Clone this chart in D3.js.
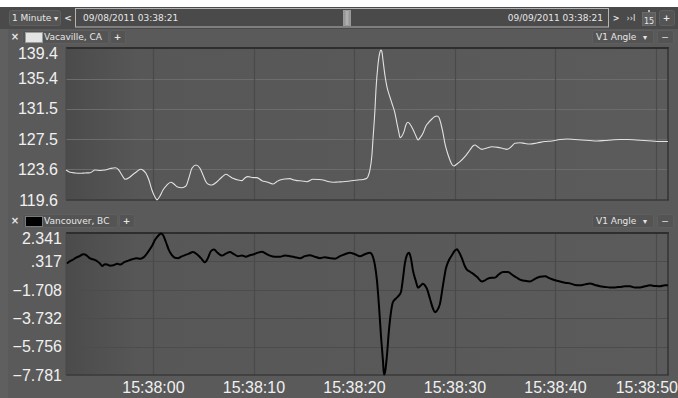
<!DOCTYPE html>
<html>
<head>
<meta charset="utf-8">
<script src="https://cdn.jsdelivr.net/npm/d3@7"></script>
<style>
  html, body { margin: 0; padding: 0; background: #ffffff; }
  svg { display: block; }
</style>
</head>
<body>
<svg id="chart" width="678" height="398"></svg>
<script>
// ---- data -------------------------------------------------------------
// Seconds relative to 15:38:00 on 09/09/2011, phase angle in degrees.
const vacavilleSeconds = [-8.7,-8.3,-7.8,-7.3,-6.8,-6.3,-5.8,-5.3,-4.8,-4.3,-3.8,-3.5,-3.2,-2.8,-2.4,-2.1,-1.7,-1.3,-1.0,-0.75,-0.45,-0.15,0.15,0.35,0.65,0.95,1.34,1.74,2.04,2.34,2.84,3.23,3.53,3.83,4.23,4.63,4.93,5.22,5.52,5.82,6.32,6.82,7.21,7.61,7.91,8.41,8.81,9.1,9.4,9.8,10.3,10.8,11.29,11.89,12.29,12.59,13.08,13.58,13.98,14.28,14.78,15.27,15.87,16.37,16.87,17.36,17.86,18.36,18.86,19.55,20.35,20.85,21.24,21.44,21.54,21.74,21.84,22.04,22.14,22.34,22.54,22.64,22.74,22.84,23.03,23.23,23.53,23.73,24.03,24.23,24.43,24.53,24.73,24.93,25.12,25.32,25.52,25.82,26.12,26.32,26.52,26.82,27.11,27.31,27.71,28.01,28.21,28.41,28.61,28.81,29.0,29.2,29.5,29.7,29.9,30.2,30.5,30.99,31.49,31.79,31.99,32.29,32.69,33.18,33.68,34.28,34.78,35.17,35.57,35.97,36.47,36.97,37.46,38.16,38.96,39.65,40.45,41.14,41.94,42.64,43.43,44.13,44.93,45.62,46.42,47.21,48.01,48.81,49.6,50.4,51.19];
const vacavilleValues = [123.51,123.21,123.12,123.08,123.12,123.16,123.51,123.45,123.51,123.70,123.81,123.60,122.99,122.30,122.53,122.86,123.25,123.60,123.45,123.08,122.21,120.90,119.99,119.62,120.12,120.90,121.55,121.91,121.68,121.33,121.20,121.42,122.47,123.73,124.16,123.73,122.86,121.98,121.62,121.55,121.98,122.60,122.95,122.66,122.43,122.21,122.12,122.47,122.64,122.53,122.51,122.12,121.95,121.68,122.01,122.21,122.34,122.38,122.21,122.12,122.08,121.98,122.30,122.27,122.21,122.01,121.91,121.95,121.98,122.08,122.21,122.27,122.43,122.99,123.51,125.46,127.42,131.32,133.93,137.19,138.88,139.14,138.88,137.84,135.88,134.36,133.02,132.20,130.93,129.59,128.33,127.72,127.94,128.50,129.37,129.72,129.50,128.81,127.94,127.42,127.68,128.29,129.24,129.59,130.15,130.48,130.54,130.35,129.50,128.33,126.99,125.98,124.81,124.22,124.03,124.29,124.59,125.24,126.11,126.63,126.76,126.50,126.20,126.37,126.54,126.46,126.31,126.20,126.50,126.99,127.06,126.96,126.89,127.03,127.22,127.29,127.48,127.55,127.48,127.42,127.35,127.29,127.35,127.42,127.48,127.48,127.42,127.35,127.29,127.22,127.22];

const vancouverSeconds = [-8.6,-8.3,-8.1,-7.7,-7.3,-7.0,-6.8,-6.5,-6.3,-5.9,-5.6,-5.3,-5.1,-4.8,-4.6,-4.3,-4.0,-3.6,-3.3,-2.9,-2.5,-2.1,-1.7,-1.3,-0.95,-0.55,-0.15,0.15,0.45,0.75,0.95,1.24,1.54,1.84,2.14,2.44,2.74,3.13,3.53,3.93,4.33,4.73,5.12,5.42,5.72,6.02,6.42,6.82,7.21,7.61,8.01,8.41,8.81,9.2,9.6,10.0,10.4,10.8,11.19,11.59,12.09,12.59,13.08,13.58,14.08,14.58,15.07,15.57,16.07,16.57,17.06,17.56,18.06,18.56,19.05,19.55,20.05,20.55,21.04,21.54,21.84,22.04,22.24,22.44,22.64,22.84,22.94,23.03,23.23,23.43,23.63,23.83,24.13,24.43,24.63,24.83,25.02,25.22,25.42,25.62,25.82,26.12,26.32,26.62,26.82,27.01,27.21,27.51,27.81,28.01,28.21,28.51,28.81,29.1,29.4,29.7,30.0,30.2,30.4,30.7,30.99,31.19,31.49,31.79,32.19,32.69,32.99,33.28,33.68,33.98,34.38,34.78,35.27,35.77,36.17,36.47,36.97,37.46,37.96,38.46,38.96,39.45,39.95,40.45,40.95,41.44,41.94,42.44,42.94,43.43,43.93,44.43,44.93,45.42,45.92,46.42,46.92,47.41,47.91,48.41,48.91,49.4,49.9,50.4,50.9,51.19];
const vancouverValues = [0.17,0.33,0.40,0.58,0.71,0.83,0.81,0.65,0.53,0.44,0.33,0.15,-0.01,0.12,0.09,0.01,0.04,0.15,0.09,0.26,0.37,0.47,0.55,0.51,0.62,0.98,1.41,1.84,2.13,2.31,2.20,1.70,1.12,0.76,0.58,0.55,0.65,0.76,0.87,0.98,0.83,0.55,0.26,0.55,1.05,1.16,0.91,0.73,0.87,0.98,0.83,0.69,0.73,0.65,0.76,0.83,0.94,1.01,0.87,0.73,0.65,0.65,0.73,0.69,0.62,0.55,0.69,0.76,0.65,0.55,0.62,0.55,0.51,0.69,0.83,0.93,0.83,0.69,0.83,0.93,0.64,0.04,-1.03,-2.83,-4.98,-6.78,-7.75,-7.64,-6.42,-4.62,-3.33,-2.59,-2.33,-2.11,-1.87,-0.89,0.17,0.76,0.93,0.55,-0.32,-1.11,-1.56,-1.39,-1.27,-1.39,-1.63,-2.33,-3.04,-3.31,-3.19,-2.71,-1.39,-0.19,0.40,0.76,1.09,1.19,0.98,0.53,-0.03,-0.27,-0.42,-0.55,-0.78,-1.11,-1.03,-0.91,-0.85,-0.84,-0.60,-0.44,-0.44,-0.67,-0.85,-0.98,-1.07,-1.11,-0.93,-0.78,-0.75,-0.89,-1.03,-1.11,-1.21,-1.25,-1.36,-1.39,-1.32,-1.25,-1.36,-1.46,-1.50,-1.54,-1.54,-1.50,-1.46,-1.46,-1.54,-1.54,-1.46,-1.39,-1.43,-1.46,-1.39,-1.39];

const vacavilleTicks = [119.6, 123.6, 127.5, 131.5, 135.4, 139.4];
const vancouverTicks = [2.341, 0.317, -1.708, -3.732, -5.756, -7.781];
const vancouverTickLabels = ["2.341", ".317", "\u22121.708", "\u22123.732", "\u22125.756", "\u22127.781"];

const rangeLabel = "1 Minute";
const startStamp = "09/08/2011 03:38:21";
const endStamp = "09/09/2011 03:38:21";
const measureLabel = "V1 Angle";

// ---- helpers ----------------------------------------------------------
const base = new Date(2011, 8, 9, 15, 38, 0);
const at = s => new Date(base.getTime() + s * 1000);

const W = 678, H = 398;
const plotLeft = 66, plotRight = 668;

const svg = d3.select("#chart");
const uiFont = "'DejaVu Sans', Verdana, sans-serif";
const axisFont = "'Liberation Sans', Arial, sans-serif";

const defs = svg.append("defs");
const grad = defs.append("linearGradient").attr("id", "plotBg")
  .attr("x1", 0).attr("x2", 1).attr("y1", 0).attr("y2", 0);
grad.append("stop").attr("offset", "0").attr("stop-color", "#4b4b4b");
grad.append("stop").attr("offset", "0.12").attr("stop-color", "#575757");
grad.append("stop").attr("offset", "1").attr("stop-color", "#5b5b5b");

const thumbGrad = defs.append("linearGradient").attr("id", "thumbBg")
  .attr("x1", 0).attr("x2", 1).attr("y1", 0).attr("y2", 0);
thumbGrad.append("stop").attr("offset", "0").attr("stop-color", "#8a8a8a");
thumbGrad.append("stop").attr("offset", "0.5").attr("stop-color", "#b4b4b4");
thumbGrad.append("stop").attr("offset", "1").attr("stop-color", "#8a8a8a");

// page and chart background
svg.append("rect").attr("x", 0).attr("y", 7).attr("width", W).attr("height", H - 7).attr("fill", "#5a5a5a");
svg.append("rect").attr("x", 0).attr("y", 29).attr("width", 8).attr("height", H - 29).attr("fill", "#5f5f5f");

// ---- toolbar ----------------------------------------------------------
const bar = svg.append("g");
bar.append("rect").attr("x", 0).attr("y", 7).attr("width", W).attr("height", 22).attr("fill", "#4a4a4a");

function button(g, x, y, w, h) {
  g.append("rect").attr("x", x + 0.5).attr("y", y + 0.5).attr("width", w).attr("height", h)
    .attr("rx", 2).attr("fill", "#545454").attr("stroke", "#5f5f5f");
}
function label(g, x, y, txt, opts = {}) {
  return g.append("text").attr("x", x).attr("y", y).text(txt)
    .attr("font-family", uiFont).attr("font-size", opts.size || 9)
    .attr("font-weight", opts.bold ? "bold" : null)
    .attr("text-anchor", opts.anchor || "start")
    .attr("fill", opts.fill || "#e6e6e6");
}

button(bar, 9, 10, 51, 15);
label(bar, 12, 21, rangeLabel);
label(bar, 56, 21, "\u25BE", { anchor: "middle", size: 8 });
label(bar, 68, 21, "<", { anchor: "middle", bold: true });

bar.append("rect").attr("x", 75.5).attr("y", 8.5).attr("width", 533).attr("height", 18.5)
  .attr("fill", "#4a4a4a").attr("stroke", "#b4b4b4");
label(bar, 83, 21, startStamp);
label(bar, 603, 21, endStamp, { anchor: "end" });
bar.append("rect").attr("x", 343.5).attr("y", 10.5).attr("width", 7).attr("height", 15)
  .attr("fill", "url(#thumbBg)").attr("stroke", "#9a9a9a");

label(bar, 616, 21, ">", { anchor: "middle", bold: true, size: 8 });
label(bar, 631, 21, "\u203A\u203AI", { anchor: "middle", size: 8 });
bar.append("rect").attr("x", 642.5).attr("y", 12.5).attr("width", 13).attr("height", 13)
  .attr("fill", "#5e5e5e").attr("stroke", "#6a6a6a");
bar.append("circle").attr("cx", 649).attr("cy", 11).attr("r", 1).attr("fill", "#e0e0e0");
label(bar, 649, 23.5, "15", { anchor: "middle", size: 8 });
button(bar, 659, 10, 15, 15);
label(bar, 666.5, 21, "+", { anchor: "middle", bold: true });

// ---- panels -----------------------------------------------------------
const x = d3.scaleTime()
  .domain([at(-8.7), at(51.2)])
  .range([plotLeft, plotRight]);
const timeTicks = x.ticks(d3.timeSecond.every(10));

function panel(cfg) {
  const g = svg.append("g");
  const hy = cfg.headerY;

  // header strip
  label(g, 15, hy + 10, "\u00D7", { anchor: "middle", bold: true, size: 10 });
  button(g, 22, hy, cfg.nameW, 13);
  g.append("rect").attr("x", 25.5).attr("y", hy + 2.5).attr("width", 17).attr("height", 10)
    .attr("fill", cfg.swatch).attr("stroke", cfg.swatchStroke);
  label(g, 44, hy + 10, cfg.name);
  button(g, 24 + cfg.nameW, hy, 15, 13);
  label(g, 31.5 + cfg.nameW, hy + 10, "+", { anchor: "middle", bold: true });

  button(g, 592, hy, 61, 13);
  label(g, 596, hy + 10, measureLabel);
  label(g, 645, hy + 10, "\u25BE", { anchor: "middle", size: 8 });
  button(g, 657, hy, 16, 13);
  label(g, 665, hy + 10, "\u2212", { anchor: "middle" });

  // plot area
  const y = d3.scaleLinear().domain(cfg.domain).range([cfg.bottom, cfg.top]);
  g.append("rect").attr("x", plotLeft).attr("y", cfg.top)
    .attr("width", plotRight - plotLeft).attr("height", cfg.bottom - cfg.top)
    .attr("fill", "url(#plotBg)");

  g.append("g").selectAll("line").data(cfg.ticks.slice(1, -1)).join("line")
    .attr("x1", plotLeft).attr("x2", plotRight)
    .attr("y1", d => Math.round(y(d)) + 0.5).attr("y2", d => Math.round(y(d)) + 0.5)
    .attr("stroke", cfg.hGrid).attr("stroke-width", 1.2);
  g.append("g").selectAll("line").data(timeTicks).join("line")
    .attr("x1", d => Math.round(x(d)) + 0.5).attr("x2", d => Math.round(x(d)) + 0.5)
    .attr("y1", cfg.top).attr("y2", cfg.bottom)
    .attr("stroke", "#4a4a4a").attr("stroke-width", 1.2);

  // borders
  g.append("line").attr("x1", plotLeft).attr("x2", plotRight + 1)
    .attr("y1", cfg.top).attr("y2", cfg.top).attr("stroke", "#2e2e2e").attr("stroke-width", 2);
  g.append("line").attr("x1", plotLeft).attr("x2", plotRight + 1)
    .attr("y1", cfg.bottom).attr("y2", cfg.bottom).attr("stroke", "#3a3a3a").attr("stroke-width", 1.5);
  g.append("line").attr("x1", plotRight).attr("x2", plotRight)
    .attr("y1", cfg.top).attr("y2", cfg.bottom).attr("stroke", "#333333").attr("stroke-width", 1.5);
  g.append("line").attr("x1", plotLeft).attr("x2", plotLeft)
    .attr("y1", cfg.top).attr("y2", cfg.bottom).attr("stroke", "#484848").attr("stroke-width", 1);

  // value axis labels
  g.append("g").selectAll("text").data(cfg.ticks).join("text")
    .attr("x", cfg.labelRight)
    .attr("y", d => Math.max(y(d), cfg.top + 5.5))
    .attr("dy", "0.36em")
    .attr("text-anchor", "end")
    .attr("font-family", axisFont).attr("font-size", 16)
    .attr("fill", "#f0f0f0")
    .text((d, i) => cfg.tickLabels ? cfg.tickLabels[i] : d3.format(".1f")(d));

  // trace
  const line = d3.line()
    .x(d => x(at(d[0])))
    .y(d => y(d[1]))
    .curve(d3.curveMonotoneX);
  const pts = cfg.seconds.map((s, i) => [s, cfg.values[i]]);
  g.append("path").datum(pts)
    .attr("d", line)
    .attr("fill", "none")
    .attr("stroke", cfg.color)
    .attr("stroke-width", cfg.width)
    .attr("stroke-linejoin", "round");
}

panel({
  headerY: 30, nameW: 86, name: "Vacaville, CA",
  swatch: "#e4e4e4", swatchStroke: "#9c9c9c",
  top: 48, bottom: 200,
  domain: [119.6, 139.4], ticks: vacavilleTicks,
  labelRight: 58, hGrid: "#6c6c6c",
  seconds: vacavilleSeconds, values: vacavilleValues,
  color: "#e2e2e2", width: 1.1
});

panel({
  headerY: 214, nameW: 95, name: "Vancouver, BC",
  swatch: "#000000", swatchStroke: "#7a7a7a",
  top: 233, bottom: 375,
  domain: [-7.781, 2.341], ticks: vancouverTicks, tickLabels: vancouverTickLabels,
  labelRight: 62, hGrid: "#4c4c4c",
  seconds: vancouverSeconds, values: vancouverValues,
  color: "#000000", width: 2
});

// ---- time axis --------------------------------------------------------
const fmt = d3.timeFormat("%H:%M:%S");
const timeLabels = svg.append("g").selectAll("text").data(timeTicks).join("text")
  .attr("y", 393)
  .attr("font-family", axisFont).attr("font-size", 16)
  .attr("fill", "#f0f0f0")
  .text(d => fmt(d));
timeLabels.each(function(d) {
  const w = this.getComputedTextLength();
  const left = Math.min(x(d) - w / 2, W - w);
  d3.select(this).attr("x", left);
});
</script>
</body>
</html>
